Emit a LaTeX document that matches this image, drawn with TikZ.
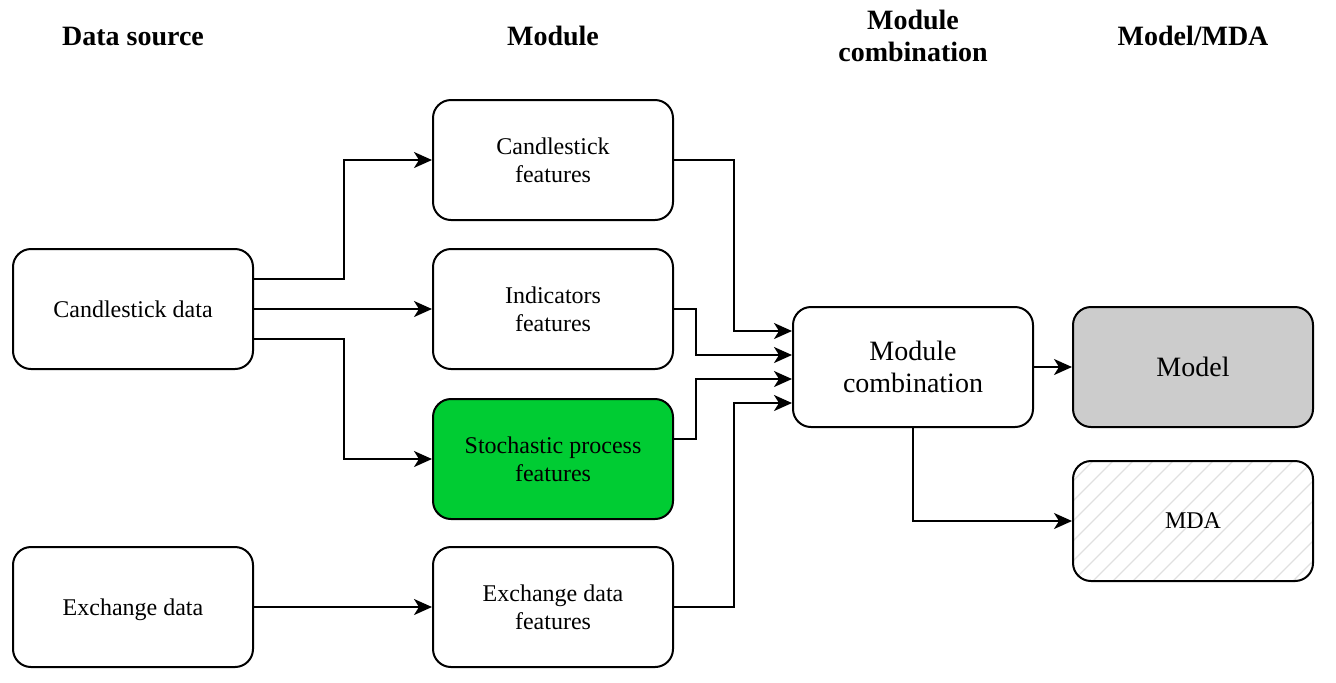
\documentclass[tikz,border=0pt]{standalone}
\usepackage{fontspec}
\setmainfont{Liberation Serif}
\usetikzlibrary{arrows.meta}
\begin{document}
\begin{tikzpicture}[x=0.5pt, y=-0.5pt,
		box/.style={draw, line width=1pt, rounded corners=9pt, minimum width=120pt, minimum height=60pt, align=center, font=\fontsize{12}{14}\selectfont},
		bigbox/.style={box, font=\fontsize{14}{16}\selectfont},
		head/.style={align=center, font=\fontsize{14}{16}\selectfont\bfseries},
		arrow/.style={line width=1pt, -{Stealth[length=9pt, width=8pt, inset=2.5pt]}},
		hatched/.style={path picture={
				\foreach \i in {-7,...,12}
				\draw[black!12, line width=0.6pt] ([xshift=\i*10pt]path picture bounding box.south west) -- ++(60pt,60pt);
			}}]
	\useasboundingbox (0,0) rectangle (1336,682);
	% column titles
	\node[head] (hsource) at (133,36) {Data source};
	\node[head] (hmodule) at (553,36) {Module};
	\node[head] (hcomb) at (913,36) {Module\\combination};
	\node[head] (hmodel) at (1193,36) {Model/MDA};
	% boxes
	\node[box] (cdata) at (133,309) {Candlestick data};
	\node[box, text depth=0pt] (edata) at (133,607) {Exchange data};
	\node[box] (cfeat) at (553,160) {Candlestick\\features};
	\node[box] (ifeat) at (553,309) {Indicators\\features};
	\node[box, fill={rgb,255:red,0;green,204;blue,51}] (sfeat) at (553,459) {Stochastic process\\features};
	\node[box] (efeat) at (553,607) {Exchange data\\features};
	\node[bigbox] (mcomb) at (913,367) {Module\\combination};
	\node[bigbox, fill={rgb,255:red,204;green,204;blue,204}] (model) at (1193,367) {Model};
	\node[box, hatched] (mda) at (1193,521) {MDA};
	% connections
	\draw[arrow] ([yshift=15pt]cdata.east) -- ++(45pt,0) |- (cfeat.west);
	\draw[arrow] (cdata) -- (ifeat);
	\draw[arrow] ([yshift=-15pt]cdata.east) -- ++(45pt,0) |- (sfeat.west);
	\draw[arrow] (edata) -- (efeat);
	\draw[arrow] (cfeat.east) -- ++(30pt,0) |- ([yshift=18pt]mcomb.west);
	\draw[arrow] (ifeat.east) -- ++(11pt,0) |- ([yshift=6pt]mcomb.west);
	\draw[arrow] ([yshift=10pt]sfeat.east) -- ++(11pt,0) |- ([yshift=-6pt]mcomb.west);
	\draw[arrow] (efeat.east) -- ++(30pt,0) |- ([yshift=-18pt]mcomb.west);
	\draw[arrow] (mcomb) -- (model);
	\draw[arrow] (mcomb.south) |- (mda.west);
\end{tikzpicture}
\end{document}
